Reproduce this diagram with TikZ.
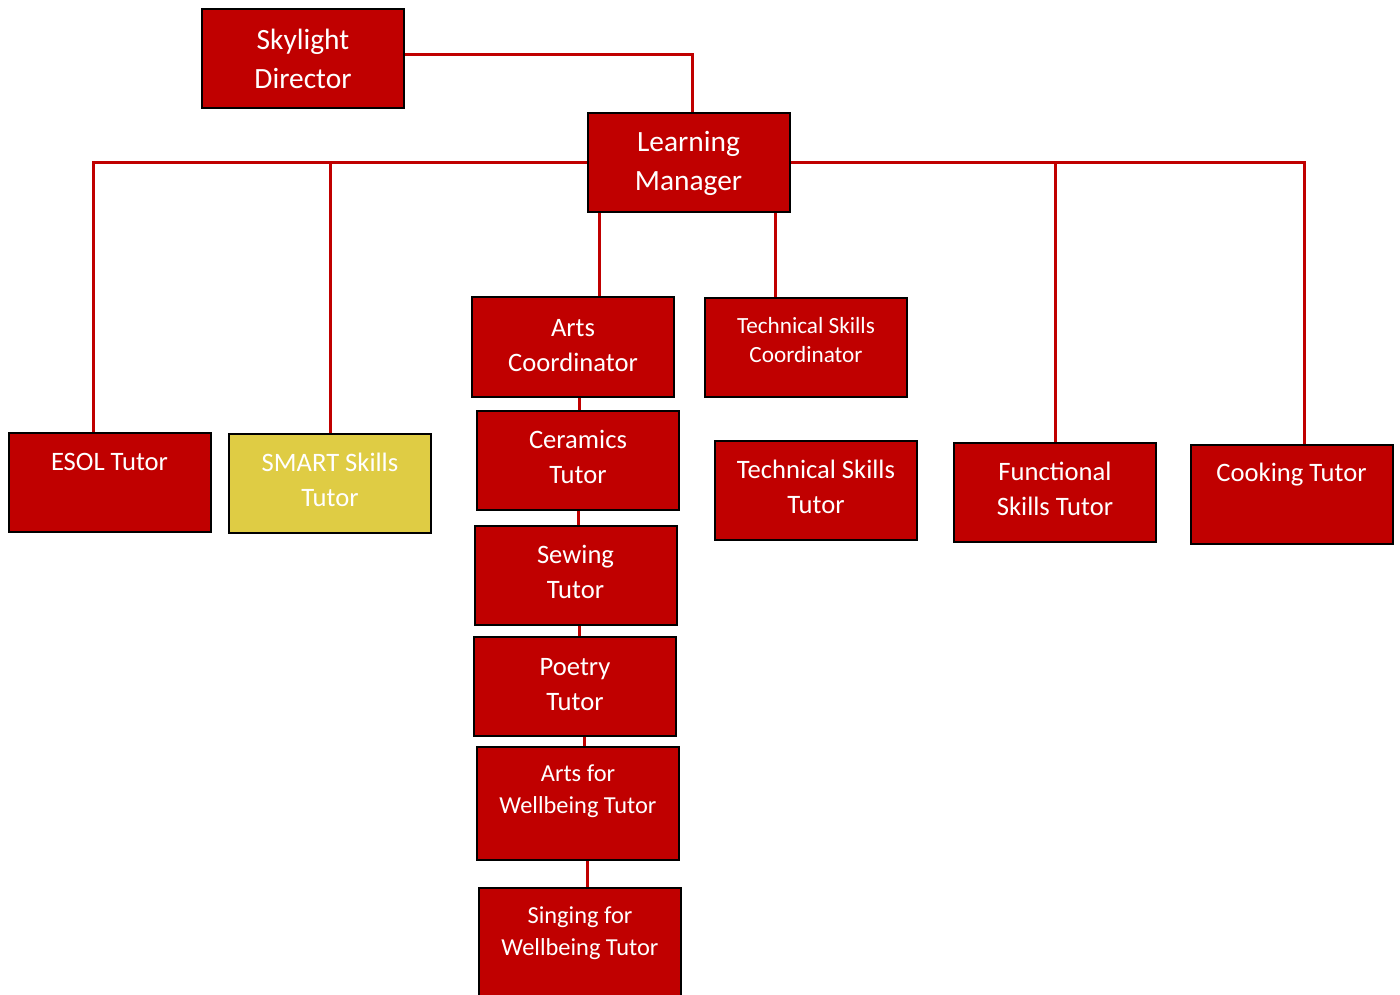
\documentclass[tikz,border=0pt]{standalone}
\usepackage{fontspec}
\setmainfont{Carlito}
\usetikzlibrary{positioning}
\definecolor{boxred}{HTML}{C00000}
\definecolor{boxyellow}{HTML}{DFCC44}

\begin{document}
\begin{tikzpicture}[
        x=0.5pt, y=-0.5pt,
        role/.style={
            rectangle, draw=black, line width=1pt, fill=boxred, text=white,
            minimum width=101pt, minimum height=49.5pt, inner sep=2pt,
            align=center, text depth=3.5pt, font=\fontsize{13.3}{17.5}\selectfont
        },
        rolehi/.style={role, fill=boxyellow, text=white},
        rolebig/.style={role, font=\fontsize{14.7}{19.5}\selectfont},
        rolesmall/.style={role, font=\fontsize{11.6}{14.5}\selectfont},
        roletall/.style={role, minimum height=56.5pt, font=\fontsize{12.2}{16}\selectfont},
        link/.style={draw=boxred, line width=1.5pt}
    ]
    \useasboundingbox (0,0) rectangle (1400,994);

    % Top: director and manager
    \node[rolebig, text depth=0.5pt] (dir) at (303,59) {Skylight\\Director};
    \node[rolebig, text depth=1.5pt] (lm) at (688.5,162.5) {Learning\\Manager};

    % Coordinators
    \node[role, text depth=2pt] (artsco) at (573,347) {Arts\\Coordinator};
    \node[rolesmall, text depth=8pt] (techco) at (806,347.5) {Technical Skills\\Coordinator};

    % Tutors on the row
    \node[role, text height=9.5pt, text depth=22pt] (esol) at (109.5,482.5) {ESOL Tutor};
    \node[rolehi] (smart) at (330,483.5) {SMART Skills\\Tutor};
    \node[role] (techtu) at (816,490.5) {Technical Skills\\Tutor};
    \node[role] (func) at (1055,492.5) {Functional\\Skills Tutor};
    \node[role, text height=9.5pt, text depth=22.5pt] (cook) at (1291.5,494) {Cooking Tutor};

    % Arts chain
    \node[role] (cer) at (578,460.5) {Ceramics\\Tutor};
    \node[role] (sew) at (575.5,575.5) {Sewing\\Tutor};
    \node[role, text depth=2pt] (poet) at (575,686) {Poetry\\Tutor};
    \node[roletall, text depth=14pt] (artswb) at (578,803.5) {Arts for\\Wellbeing Tutor};
    \node[roletall, text depth=13.5pt] (sing) at (580,944.5) {Singing for\\Wellbeing Tutor};

    % Links
    \draw[link] ([yshift=2pt]dir.east) -| ([xshift=2pt]lm.north);
    \draw[link] (lm.west) -| ([xshift=-8.25pt]esol.north);
    \draw[link] (lm.west -| smart.north) -- (smart.north);
    \draw[link] (lm.east) -| ([xshift=6.25pt]cook.north);
    \draw[link] (lm.east -| func.north) -- (func.north);
    \draw[link] ([xshift=-44.5pt]lm.south) -- ([xshift=-44.5pt]lm.south |- artsco.north);
    \draw[link] ([xshift=43.5pt]lm.south) -- ([xshift=43.5pt]lm.south |- techco.north);
    \draw[link] ([xshift=3pt]artsco.south) -- ([xshift=3pt]artsco.south |- cer.north);
    \draw[link] (cer.south) -- (cer.south |- sew.north);
    \draw[link] ([xshift=1.75pt]sew.south) -- ([xshift=1.75pt]sew.south |- poet.north);
    \draw[link] ([xshift=4.75pt]poet.south) -- ([xshift=4.75pt]poet.south |- artswb.north);
    \draw[link] ([xshift=4.5pt]artswb.south) -- ([xshift=4.5pt]artswb.south |- sing.north);
\end{tikzpicture}
\end{document}
